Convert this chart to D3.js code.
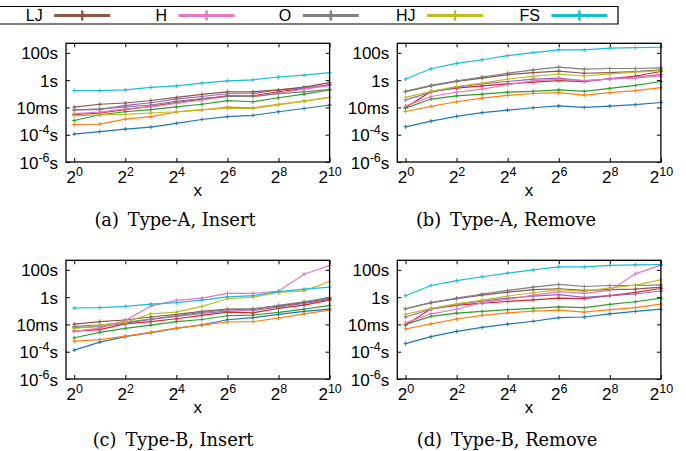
<!DOCTYPE html>
<html><head><meta charset="utf-8">
<script src="https://cdn.jsdelivr.net/npm/d3@7"></script>
<style>
body{margin:0;background:#fff;}
svg{display:block;}
.tick text{font-family:"Liberation Sans",Arial,sans-serif;font-size:17px;fill:#000;}
</style></head><body>
<svg id="chart" width="686" height="451"></svg>
<script>
// ---------- data ----------
const xValues = [1, 2, 4, 8, 16, 32, 64, 128, 256, 512, 1024];
const seriesColors = ["#1f77b4","#ff7f0e","#2ca02c","#d62728","#9467bd","#8c564b","#e377c2","#7f7f7f","#bcbd22","#17becf"];
const legendLabels = ["LJ", "H", "O", "HJ", "FS"];
const legendColors = ["#8c564b","#e377c2","#7f7f7f","#bcbd22","#17becf"];
const yTickValues = [1e-6, 1e-4, 1e-2, 1, 100];
const yTickLabels = [["10","-6","s"], ["10","-4","s"], ["10ms"], ["1s"], ["100s"]];
const xTickValues = [1, 4, 16, 64, 256, 1024];
const xTickExps = ["0", "2", "4", "6", "8", "10"];
const captions = ["(a)\u2002Type-A, Insert", "(b)\u2002Type-A, Remove", "(c)\u2002Type-B, Insert", "(d)\u2002Type-B, Remove"];

// rows: blue, orange, green, red, purple, brown(LJ), pink(H), gray(O), olive(HJ), cyan(FS); seconds
const typeAInsert = [
  [1.1e-4, 1.7e-4, 2.6e-4, 3.6e-4, 6.8e-4, 1.3e-3, 2.1e-3, 2.6e-3, 4.8e-3, 8.3e-3, 1.5e-2],
  [5.6e-4, 6.0e-4, 1.4e-3, 2.1e-3, 4.6e-3, 6.5e-3, 1.05e-2, 9.3e-3, 1.7e-2, 2.9e-2, 5.4e-2],
  [1.1e-3, 2.9e-3, 4.8e-3, 6.8e-3, 1.1e-2, 1.7e-2, 3.1e-2, 2.6e-2, 5.1e-2, 9.3e-2, 1.9e-1],
  [2.9e-3, 3.9e-3, 6.8e-3, 1.2e-2, 2.3e-2, 4.1e-2, 7.1e-2, 7.1e-2, 1.4e-1, 2.5e-1, 4.6e-1],
  [6.8e-3, 6.8e-3, 1.4e-2, 2.2e-2, 4.1e-2, 6.3e-2, 1.0e-1, 1.05e-1, 1.9e-1, 2.6e-1, 4.6e-1],
  [1.05e-2, 1.7e-2, 2.1e-2, 3.2e-2, 5.4e-2, 8.9e-2, 1.4e-1, 1.4e-1, 1.9e-1, 3.1e-1, 6.6e-1],
  [3.5e-3, 4.5e-3, 7.9e-3, 1.1e-2, 2.0e-2, 3.5e-2, 6.3e-2, 6.3e-2, 1.1e-1, 2.2e-1, 4.0e-1],
  [6.3e-3, 7.9e-3, 1.1e-2, 1.5e-2, 2.8e-2, 4.5e-2, 6.3e-2, 6.3e-2, 1.0e-1, 1.4e-1, 2.1e-1],
  [2.5e-3, 2.8e-3, 3.1e-3, 3.9e-3, 4.8e-3, 6.8e-3, 8.3e-3, 8.3e-3, 1.5e-2, 2.9e-2, 5.4e-2],
  [1.7e-1, 1.7e-1, 1.9e-1, 2.9e-1, 3.8e-1, 6.0e-1, 8.9e-1, 1.05, 1.7, 2.3, 3.6]
];
const typeARemove = [
  [3.8e-4, 1.0e-3, 2.2e-3, 4.1e-3, 6.3e-3, 9.5e-3, 1.3e-2, 1.0e-2, 1.26e-2, 1.6e-2, 2.3e-2],
  [5.0e-3, 1.2e-2, 2.6e-2, 4.8e-2, 7.6e-2, 1.05e-1, 1.2e-1, 7.9e-2, 1.2e-1, 1.7e-1, 2.8e-1],
  [8.9e-3, 4.1e-2, 7.1e-2, 9.3e-2, 1.3e-1, 1.5e-1, 1.9e-1, 1.5e-1, 2.5e-1, 4.1e-1, 7.9e-1],
  [1.0e-2, 1.5e-1, 2.6e-1, 3.8e-1, 5.4e-1, 7.1e-1, 9.3e-1, 7.9e-1, 1.26, 2.0, 4.3],
  [3.6e-2, 1.3e-1, 3.1e-1, 5.4e-1, 7.9e-1, 1.2, 1.4, 8.9e-1, 1.26, 1.7, 2.5],
  [1.4e-1, 3.8e-1, 7.9e-1, 1.4, 2.5, 3.6, 4.6, 3.2, 3.6, 4.3, 5.6],
  [1.3e-2, 6.3e-2, 1.3e-1, 2.2e-1, 4.6e-1, 8.9e-1, 1.2, 9.3e-1, 1.2, 1.4, 2.0],
  [1.5e-1, 4.1e-1, 8.9e-1, 1.7, 3.2, 5.6, 8.9, 6.3, 7.1, 7.1, 7.9],
  [5.4e-2, 1.5e-1, 3.4e-1, 6.0e-1, 1.2, 1.9, 2.8, 2.0, 2.9, 3.8, 5.0],
  [1.2, 6.8, 17, 31, 63, 105, 166, 166, 219, 245, 257]
];
const typeBInsert = [
  [1.3e-4, 5.1e-4, 1.26e-3, 2.5e-3, 5.1e-3, 9.5e-3, 2.2e-2, 3.1e-2, 5.4e-2, 8.9e-2, 1.3e-1],
  [6.0e-4, 7.6e-4, 1.4e-3, 2.6e-3, 5.4e-3, 8.9e-3, 1.5e-2, 1.6e-2, 2.9e-2, 6.0e-2, 1.1e-1],
  [1.05e-3, 2.6e-3, 5.1e-3, 8.9e-3, 1.6e-2, 2.3e-2, 4.3e-2, 4.8e-2, 7.6e-2, 1.3e-1, 2.5e-1],
  [3.2e-3, 4.1e-3, 1.1e-2, 1.6e-2, 2.6e-2, 4.6e-2, 7.9e-2, 7.1e-2, 1.5e-1, 2.6e-1, 6.0e-1],
  [5.8e-3, 6.8e-3, 1.26e-2, 2.3e-2, 3.9e-2, 6.3e-2, 9.5e-2, 1.05e-1, 1.9e-1, 3.5e-1, 6.8e-1],
  [1.05e-2, 1.6e-2, 2.1e-2, 3.5e-2, 5.4e-2, 8.9e-2, 1.3e-1, 1.4e-1, 2.2e-1, 4.1e-1, 7.9e-1],
  [3.1e-3, 5.4e-3, 1.9e-2, 2.2e-1, 5.8e-1, 8.5e-1, 1.9, 1.9, 2.8, 48, 209],
  [7.1e-3, 8.9e-3, 1.4e-2, 2.5e-2, 4.3e-2, 7.6e-2, 1.2e-1, 1.3e-1, 2.5e-1, 4.6e-1, 9.5e-1],
  [4.8e-3, 8.9e-3, 1.4e-2, 6.0e-2, 7.9e-2, 2.1e-1, 7.6e-1, 1.0, 2.2, 2.9, 14],
  [1.6e-1, 1.7e-1, 2.1e-1, 3.1e-1, 3.9e-1, 6.0e-1, 1.05, 1.3, 2.5, 3.9, 5.4]
];
const typeBRemove = [
  [3.9e-4, 1.26e-3, 3.1e-3, 6.0e-3, 1.05e-2, 1.7e-2, 3.1e-2, 3.5e-2, 6.0e-2, 8.9e-2, 1.3e-1],
  [4.6e-3, 1.1e-2, 2.5e-2, 4.6e-2, 7.1e-2, 9.5e-2, 1.1e-1, 7.9e-2, 1.2e-1, 1.7e-1, 3.1e-1],
  [1.0e-2, 3.9e-2, 6.8e-2, 8.9e-2, 1.2e-1, 1.5e-1, 1.9e-1, 1.7e-1, 2.9e-1, 4.6e-1, 8.5e-1],
  [8.9e-3, 1.4e-1, 2.5e-1, 3.6e-1, 4.8e-1, 6.3e-1, 8.5e-1, 7.9e-1, 1.3, 2.2, 4.3],
  [3.5e-2, 1.3e-1, 2.9e-1, 5.1e-1, 8.5e-1, 1.2, 1.5, 9.5e-1, 1.3, 1.7, 2.8],
  [1.4e-1, 3.9e-1, 7.6e-1, 1.4, 2.3, 3.5, 4.1, 3.1, 3.6, 3.9, 5.4],
  [1.3e-2, 6.0e-2, 1.3e-1, 3.9e-1, 6.8e-1, 1.4, 2.5, 1.9, 3.1, 51, 219],
  [1.4e-1, 3.9e-1, 8.5e-1, 1.7, 3.1, 5.4, 8.5, 6.0, 7.1, 7.1, 7.9],
  [5.4e-2, 1.5e-1, 3.2e-1, 6.0e-1, 1.2, 2.1, 3.5, 2.6, 4.8, 7.6, 18.6],
  [1.26, 7.1, 16, 31, 58, 100, 166, 166, 209, 234, 245]
];

// ---------- layout ----------
const panels = [
  {data: typeAInsert, left: 66,    top: 43.3,  cx: 175, cy: 226},
  {data: typeARemove, left: 397.3, top: 43.3,  cx: 506, cy: 226},
  {data: typeBInsert, left: 66,    top: 260.3, cx: 173, cy: 446},
  {data: typeBRemove, left: 397.3, top: 260.3, cx: 507, cy: 446}
];
const PW = 263.6, PH = 118.7;
const svg = d3.select("#chart");
const sansFont = '"Liberation Sans", Arial, sans-serif';

panels.forEach((p, pi) => {
  const g = svg.append("g").attr("transform", `translate(${p.left},${p.top})`);
  const x = d3.scaleLog().base(2).domain([0.8, 1024]).range([0, PW]);
  const y = d3.scaleLog().domain([1e-6, 500]).range([PH, 0]);

  // axes
  const yAxis = d3.axisLeft(y).tickValues(yTickValues).tickSize(-4).tickPadding(8).tickFormat(() => "");
  const gy = g.append("g").call(yAxis);
  gy.selectAll(".tick text").each(function(d) {
    const parts = yTickLabels[yTickValues.indexOf(d)];
    const t = d3.select(this).attr("dy", "0.36em");
    t.append("tspan").text(parts[0]);
    if (parts.length > 1) {
      t.append("tspan").attr("dy", -7).attr("font-size", 12.5).text(parts[1]);
      t.append("tspan").attr("dy", 7).text(parts[2]);
    }
  });
  g.append("g").attr("transform", `translate(${PW},0)`)
    .call(d3.axisRight(y).tickValues(yTickValues).tickSize(-4).tickFormat(() => ""));
  const xAxis = d3.axisBottom(x).tickValues(xTickValues).tickSize(-4).tickPadding(4).tickFormat(() => "");
  const gx = g.append("g").attr("transform", `translate(0,${PH})`).call(xAxis);
  gx.selectAll(".tick text").each(function(d) {
    const e = xTickExps[xTickValues.indexOf(d)];
    const t = d3.select(this).attr("dy", "1.0em");
    t.append("tspan").text("2");
    t.append("tspan").attr("dy", -7).attr("font-size", 12.5).text(e);
  });
  g.append("g").call(d3.axisTop(x).tickValues(xTickValues).tickSize(-4).tickFormat(() => ""));
  g.selectAll(".domain").remove();
  g.selectAll(".tick line").attr("stroke", "#000").attr("stroke-width", 1);

  // lines
  const line = d3.line().x((d, i) => x(xValues[i])).y(d => y(d));
  p.data.forEach((vals, si) => {
    const c = seriesColors[si];
    g.append("path").attr("d", line(vals)).attr("fill", "none")
      .attr("stroke", c).attr("stroke-width", 1.2);
    g.append("g").selectAll("path").data(vals).join("path")
      .attr("d", (d, i) => {
        const px = x(xValues[i]), py = y(d);
        return `M${px-2},${py}H${px+2}M${px},${py-2}V${py+2}`;
      })
      .attr("stroke", c).attr("stroke-width", 1);
  });

  // frame
  g.append("rect").attr("width", PW).attr("height", PH)
    .attr("fill", "none").attr("stroke", "#000").attr("stroke-width", 1.3);

  // x label
  g.append("text").attr("x", PW / 2).attr("y", PH + 34).attr("text-anchor", "middle")
    .attr("font-family", sansFont).attr("font-size", 17).text("x");

  // caption
  svg.append("text").attr("x", p.cx).attr("y", p.cy).attr("text-anchor", "middle")
    .attr("font-family", '"DejaVu Serif", serif').attr("font-size", 17.8)
    .text(captions[pi]);
});

// ---------- legend ----------
const lg = svg.append("g");
lg.append("path").attr("d", "M-2,6.5H618V24H-2").attr("fill", "none").attr("stroke", "#000").attr("stroke-width", 1.2);
legendLabels.forEach((lab, i) => {
  const tx = 42.7 + 124.3 * i;
  const lx1 = tx + 11.5, lx2 = tx + 67.5, mx = (lx1 + lx2) / 2;
  lg.append("text").attr("x", tx).attr("y", 21).attr("text-anchor", "end")
    .attr("font-family", sansFont).attr("font-size", 16).text(lab);
  lg.append("line").attr("x1", lx1).attr("x2", lx2).attr("y1", 15.5).attr("y2", 15.5)
    .attr("stroke", legendColors[i]).attr("stroke-width", 3.2);
  lg.append("line").attr("x1", mx).attr("x2", mx).attr("y1", 10.5).attr("y2", 20.5)
    .attr("stroke", legendColors[i]).attr("stroke-width", 2.5);
});
</script>
</body></html>
